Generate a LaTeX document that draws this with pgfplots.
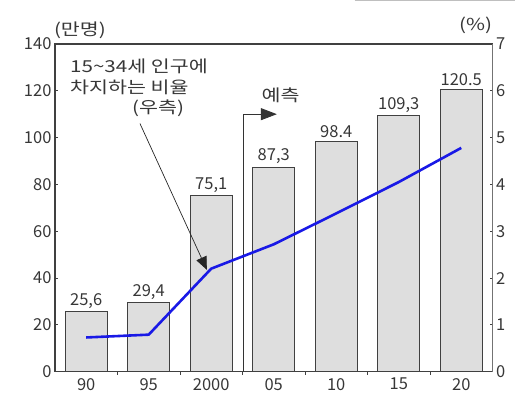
\documentclass[border=0pt]{standalone}
\usepackage{fontspec}
\setmainfont{Noto Sans CJK KR}
\usepackage{graphicx}
\usepackage{pgfplots}
\pgfplotsset{compat=1.18}
\usepackage{pgfplotstable}
\usetikzlibrary{arrows.meta}
\definecolor{barfill}{RGB}{222,222,222}
\definecolor{txt}{RGB}{55,55,55}
\definecolor{blu}{RGB}{25,25,230}
\newcommand{\wide}[1]{\scalebox{1.25}[1]{#1}}
\pgfplotstableread{
x y lab
0 25.6 25,6
1 29.4 29,4
2 75.1 75,1
3 87.3 87,3
4 98.4 98.4
5 109.3 109,3
6 120.5 120.5
}\bars
\pgfplotstableread{
x r
0 0.73
1 0.79
2 2.20
3 2.72
4 3.38
5 4.05
6 4.78
}\ratio
\begin{document}
\begin{tikzpicture}[font=\fontsize{16.5}{18}\selectfont]
\begin{axis}[
  name=ax,
  scale only axis, width=438pt, height=328pt,
  xmin=-0.5, xmax=6.5, ymin=0, ymax=140,
  ytick={0,20,...,140},
  xtick={0,...,6},
  xticklabels={90,95,2000,05,10,15,20},
  minor xtick={0.5,1.5,...,5.5},
  major x tick style={draw=none},
  minor tick length=3pt,
  major tick length=3pt,
  tick align=inside,
  ytick pos=left,
  xtick pos=bottom,
  axis line style={draw=black!75, line width=1.2pt},
  tick style={black!75, line width=0.8pt},
  ticklabel style={text=txt},
  /pgf/number format/assume math mode=true,
  clip=false,
  ybar, bar width=0.67,
]
\addplot[fill=barfill, draw=black!75, line width=1.1pt,
  nodes near coords, point meta=explicit symbolic,
  nodes near coords style={text=txt, inner sep=3pt}]
  table[x=x, y=y, meta=lab] {\bars};
% forecast marker
\draw[black!80, line width=0.9pt, -{Triangle[length=16pt,width=12pt]}]
  (axis cs:2.52,0) -- (axis cs:2.52,110) -- (axis cs:3.05,110);
\node[text=txt] at (axis cs:3.11,118) {\wide{예측}};
% annotation
\node[text=txt, anchor=west, inner sep=0pt] at (axis cs:-0.26,130.5) {\wide{15\textasciitilde34세 인구에}};
\node[text=txt, anchor=west, inner sep=0pt] at (axis cs:-0.26,121.5) {\wide{차지하는 비율}};
\node[text=txt] at (axis cs:1.15,112.6) {\wide{(우측)}};
\draw[black!85, line width=0.7pt, -{Triangle[length=13pt,width=11pt]}]
  (axis cs:0.86,106) -- (axis cs:1.93,43.5);
\node[text=txt] at (axis cs:-0.1,145.8) {\wide{(만명)}};
\node[text=txt] at (axis cs:6.23,148) {\wide{(\%)}};
\end{axis}
\begin{axis}[
  scale only axis, width=438pt, height=328pt,
  xmin=-0.5, xmax=6.5, ymin=0, ymax=7,
  axis x line=none,
  axis y line*=right,
  ytick={0,...,7},
  tick align=inside,
  major tick length=3pt,
  axis line style={draw=black!55, line width=1.6pt},
  tick style={black!75, line width=0.8pt},
  ticklabel style={text=txt},
  /pgf/number format/assume math mode=true,
]
\addplot[blu, line width=2.6pt, mark=none] table[x=x, y=r] {\ratio};
\end{axis}
\draw[black!25, line width=1pt] ([xshift=300pt,yshift=43.5pt]ax.north west) -- ([xshift=22pt,yshift=43.5pt]ax.north east);
\path ([xshift=-55pt,yshift=-35pt]ax.south west) rectangle ([xshift=22pt,yshift=44pt]ax.north east);
\end{tikzpicture}
\end{document}
